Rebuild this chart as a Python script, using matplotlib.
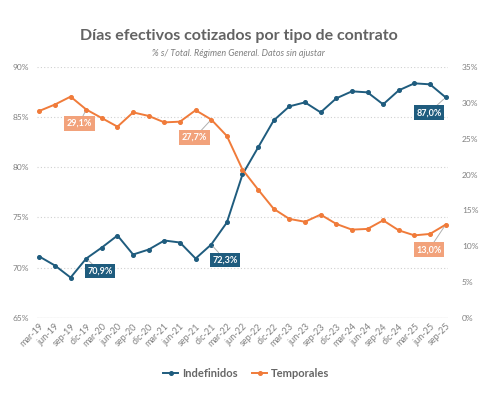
import matplotlib.pyplot as plt
from matplotlib.ticker import FuncFormatter

# Datos (lectura aproximada del grafico)
fechas = ['mar-19', 'jun-19', 'sep-19', 'dic-19', 'mar-20', 'jun-20', 'sep-20', 'dic-20',
          'mar-21', 'jun-21', 'sep-21', 'dic-21', 'mar-22', 'jun-22', 'sep-22', 'dic-22',
          'mar-23', 'jun-23', 'sep-23', 'dic-23', 'mar-24', 'jun-24', 'sep-24', 'dic-24',
          'mar-25', 'jun-25', 'sep-25']
indefinidos = [71.1, 70.2, 69.0, 70.9, 72.0, 73.2, 71.3, 71.8, 72.7, 72.5, 70.9, 72.3,
               74.5, 79.3, 82.0, 84.7, 86.1, 86.5, 85.5, 86.9, 87.6, 87.5, 86.3, 87.7,
               88.4, 88.3, 87.0]
temporales = [28.9, 29.8, 30.9, 29.1, 27.9, 26.7, 28.7, 28.2, 27.3, 27.4, 29.0, 27.7,
              25.4, 20.7, 17.9, 15.2, 13.8, 13.4, 14.4, 13.1, 12.3, 12.4, 13.6, 12.2,
              11.5, 11.7, 13.0]

# etiquetas: (serie, indice, texto, offset en puntos)
etiquetas = [
    ('ind', 3, '70,9%', (10, -9)),
    ('ind', 11, '72,3%', (10, -11)),
    ('ind', 26, '87,0%', (-12, -11)),
    ('tem', 3, '29,1%', (-5, -10)),
    ('tem', 11, '27,7%', (-12, -13)),
    ('tem', 26, '13,0%', (-12, -18)),
]

azul = '#1f5c7e'
naranja = '#f07b3a'
naranja_caja = '#f2a27b'
gris = '#808080'

plt.rcParams['font.family'] = ['Lato', 'DejaVu Sans']

fig = plt.figure(figsize=(5.02, 3.96), dpi=100)
ax = fig.add_axes([0.0737, 0.198, 0.8187, 0.632])
ax2 = ax.twinx()

x = list(range(len(fechas)))
l1, = ax.plot(x, indefinidos, color=azul, lw=1.4, marker='o', ms=2.6, label='Indefinidos')
l2, = ax2.plot(x, temporales, color=naranja, lw=1.4, marker='o', ms=2.6, label='Temporales')

ax.set_xlim(-0.15, len(fechas) - 0.85)
ax.set_ylim(65, 90)
ax.set_yticks([65, 70, 75, 80, 85, 90])
ax2.set_ylim(0, 35)
ax2.set_yticks([0, 5, 10, 15, 20, 25, 30, 35])

pct = FuncFormatter(lambda v, p: f'{v:.0f}%')
ax.yaxis.set_major_formatter(pct)
ax2.yaxis.set_major_formatter(pct)

ax.yaxis.grid(True, color='#d0d0d0', linestyle=(0, (1, 2)), lw=0.8)
ax.set_axisbelow(True)
ax.axhline(65, color='#e3e3e3', lw=1, zorder=0)

for a in (ax, ax2):
    for s in a.spines.values():
        s.set_visible(False)
    a.tick_params(length=0, colors=gris, labelsize=6)

ax.tick_params(axis='y', pad=6)
ax2.tick_params(axis='y', pad=10)
ax.set_xticks(x)
ax.set_xticklabels(fechas, rotation=45, ha='right', rotation_mode='anchor', fontsize=6.5)
ax.tick_params(axis='x', pad=3)

# etiquetas de datos
for serie, i, txt, off in etiquetas:
    if serie == 'ind':
        eje, y, fc = ax, indefinidos[i], azul
    else:
        eje, y, fc = ax2, temporales[i], naranja_caja
    eje.annotate(txt, xy=(i, y), xytext=off, textcoords='offset points',
                 ha='center', va='center', fontsize=6.5, fontweight='bold', color='white',
                 bbox=dict(boxstyle='square,pad=0.3', fc=fc, ec='none'),
                 arrowprops=dict(arrowstyle='-', color='#b0b0b0', lw=0.7,
                                 shrinkA=0, shrinkB=2))

fig.text(0.475, 0.908, 'Días efectivos cotizados por tipo de contrato',
         ha='center', va='center', fontsize=11.5, fontweight='bold', color='#636363')
fig.text(0.475, 0.866, '% s/ Total. Régimen General. Datos sin ajustar',
         ha='center', va='center', fontsize=6.5, style='italic', color='#7f7f7f')

fig.legend(handles=[l1, l2], loc='center', bbox_to_anchor=(0.49, 0.056), ncol=2,
           frameon=False, handlelength=1.4, handletextpad=0.3, columnspacing=1.3,
           prop={'weight': 'bold', 'size': 8}, labelcolor='#666666')

fig.savefig('out.png', dpi=100)
